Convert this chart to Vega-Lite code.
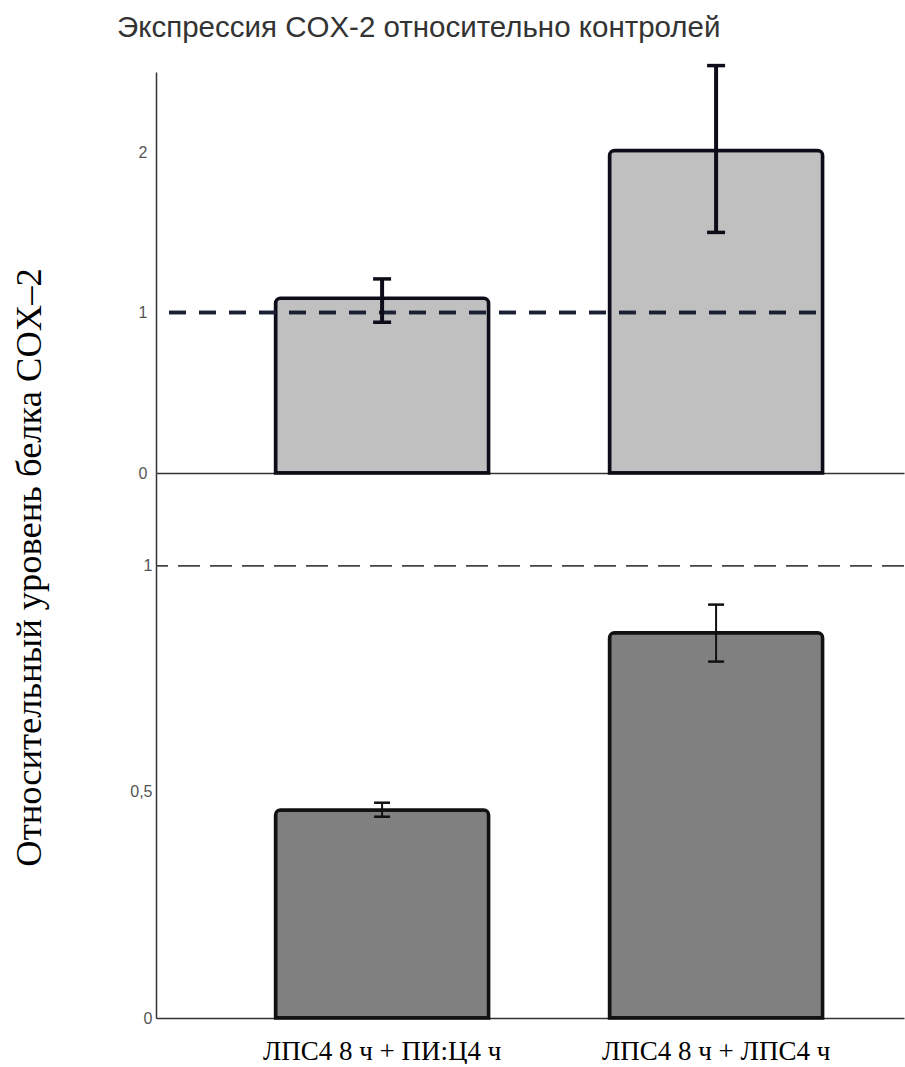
{
  "$schema": "https://vega.github.io/schema/vega-lite/v6.json",
  "padding": {"left": 10, "top": 13, "right": 0, "bottom": 0},
  "spacing": 0,
  "bounds": "flush",
  "config": {"view": {"stroke": null}, "concat": {"spacing": 0}},
  "datasets": {
    "bars": [
      {"panel": "top", "group": "ЛПС4 8 ч + ПИ:Ц4 ч", "value": 1.09, "lo": 0.94, "hi": 1.21},
      {"panel": "top", "group": "ЛПС4 8 ч + ЛПС4 ч", "value": 2.01, "lo": 1.5, "hi": 2.54},
      {"panel": "bottom", "group": "ЛПС4 8 ч + ПИ:Ц4 ч", "value": 0.46, "lo": 0.445, "hi": 0.476},
      {"panel": "bottom", "group": "ЛПС4 8 ч + ЛПС4 ч", "value": 0.852, "lo": 0.788, "hi": 0.914}
    ]
  },
  "vconcat": [
    {
      "width": 748,
      "height": 401,
      "data": {"name": "bars"},
      "transform": [{"filter": "datum.panel === 'top'"}],
      "title": {"text": "Экспрессия COX-2 относительно контролей", "anchor": "start", "frame": "group", "dx": -39, "fontSize": 29.5, "font": "Liberation Sans", "fontWeight": "normal", "color": "#333333", "offset": 20},
      "encoding": {
        "x": {"field": "group", "type": "nominal", "sort": null,
          "scale": {"domain": ["ЛПС4 8 ч + ПИ:Ц4 ч", "ЛПС4 8 ч + ЛПС4 ч"], "paddingInner": 0.362, "paddingOuter": 0.3008, "align": 0.595},
          "axis": {"title": null, "labels": false, "ticks": false, "domainColor": "#333333", "domainWidth": 1.5}}
      },
      "layer": [
        {
          "mark": {"type": "bar", "fill": "#c0c0c0", "stroke": "#0d0d1a", "strokeWidth": 3.5, "cornerRadiusTopLeft": 5, "cornerRadiusTopRight": 5},
          "encoding": {
            "y": {"field": "value", "type": "quantitative",
              "scale": {"domain": [0, 2.5], "nice": false},
              "axis": {"values": [0, 1, 2], "format": "d", "title": null, "grid": false, "ticks": false, "labelPadding": 9, "labelFontSize": 16, "labelColor": "#555555", "labelFont": "Liberation Sans", "domainColor": "#333333", "domainWidth": 1.5}}
          }
        },
        {
          "mark": {"type": "rule", "stroke": "#1a1f33", "strokeWidth": 3.5, "strokeDash": [17, 13]},
          "encoding": {
            "y": {"datum": 1, "type": "quantitative"},
            "x": {"datum": "ЛПС4 8 ч + ПИ:Ц4 ч", "bandPosition": -0.5},
            "x2": {"datum": "ЛПС4 8 ч + ЛПС4 ч", "bandPosition": 0.984}
          }
        },
        {
          "mark": {"type": "rule", "stroke": "#0d0d1a", "strokeWidth": 4},
          "encoding": {"y": {"field": "lo", "type": "quantitative"}, "y2": {"field": "hi"}}
        },
        {
          "mark": {"type": "tick", "color": "#0d0d1a", "size": 18, "thickness": 3.5, "opacity": 1},
          "encoding": {"y": {"field": "hi", "type": "quantitative"}}
        },
        {
          "mark": {"type": "tick", "color": "#0d0d1a", "size": 18, "thickness": 3.5, "opacity": 1},
          "encoding": {"y": {"field": "lo", "type": "quantitative"}}
        }
      ]
    },
    {
      "width": 748,
      "height": 545,
      "data": {"name": "bars"},
      "transform": [{"filter": "datum.panel === 'bottom'"}],
      "layer": [
        {
          "mark": {"type": "bar", "fill": "#808080", "stroke": "#111111", "strokeWidth": 3.5, "cornerRadiusTopLeft": 5, "cornerRadiusTopRight": 5},
          "encoding": {
            "x": {"field": "group", "type": "nominal", "sort": null,
              "scale": {"domain": ["ЛПС4 8 ч + ПИ:Ц4 ч", "ЛПС4 8 ч + ЛПС4 ч"], "paddingInner": 0.362, "paddingOuter": 0.3008, "align": 0.595},
              "axis": {"title": null, "labelAngle": 0, "ticks": false, "labelPadding": 20, "labelLimit": 0, "labelFont": "Liberation Serif", "labelFontSize": 27, "labelColor": "#000000", "domainColor": "#333333", "domainWidth": 1.5}},
            "y": {"field": "value", "type": "quantitative",
              "scale": {"domain": [0, 1.205], "nice": false},
              "axis": {"values": [0, 0.5, 1], "format": "~g", "labelExpr": "replace(datum.label, '.', ',')", "grid": false, "ticks": false, "labelPadding": 4, "labelFontSize": 16, "labelColor": "#555555", "labelFont": "Liberation Sans", "domainColor": "#333333", "domainWidth": 1.5,
                "title": "Относительный уровень белка COX–2", "titleFont": "Liberation Serif", "titleFontSize": 36.5, "titleFontWeight": "normal", "titleColor": "#000000", "titleX": -127, "titleY": 94, "titleAngle": 270, "titleBaseline": "middle", "titleAlign": "center"}}
          }
        },
        {
          "mark": {"type": "rule", "stroke": "#444444", "strokeWidth": 1.5, "strokeDash": [22, 10]},
          "encoding": {"y": {"datum": 1, "type": "quantitative"}}
        },
        {
          "mark": {"type": "rule", "stroke": "#111111", "strokeWidth": 2},
          "encoding": {"x": {"field": "group", "type": "nominal", "sort": null}, "y": {"field": "lo", "type": "quantitative"}, "y2": {"field": "hi"}}
        },
        {
          "mark": {"type": "tick", "color": "#111111", "size": 16, "thickness": 2.5, "opacity": 1},
          "encoding": {"x": {"field": "group", "type": "nominal", "sort": null}, "y": {"field": "hi", "type": "quantitative"}}
        },
        {
          "mark": {"type": "tick", "color": "#111111", "size": 16, "thickness": 2.5, "opacity": 1},
          "encoding": {"x": {"field": "group", "type": "nominal", "sort": null}, "y": {"field": "lo", "type": "quantitative"}}
        }
      ]
    }
  ]
}
